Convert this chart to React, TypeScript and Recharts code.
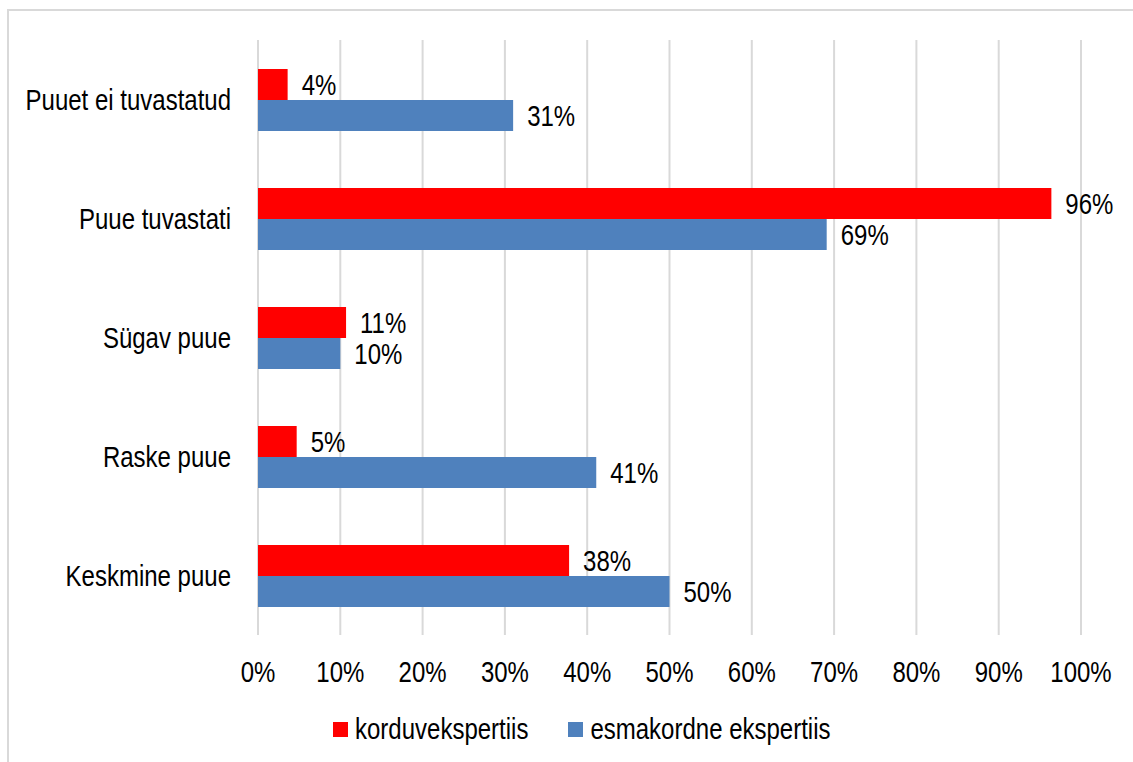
import { BarChart, Bar, XAxis, YAxis, CartesianGrid, LabelList } from "recharts";

const categories = [
  "Puuet ei tuvastatud",
  "Puue tuvastati",
  "Sügav puue",
  "Raske puue",
  "Keskmine puue",
];
const korduvekspertiis = [3.6, 96.4, 10.7, 4.7, 37.8];
const esmakordne = [31.0, 69.1, 10.0, 41.1, 50.0];
const xTicks = [0, 10, 20, 30, 40, 50, 60, 70, 80, 90, 100];

const series = [
  { key: "korduv", name: "korduvekspertiis", color: "#FF0000" },
  { key: "esmakordne", name: "esmakordne ekspertiis", color: "#4F81BD" },
];

const data = categories.map((category, i) => ({
  category,
  korduv: korduvekspertiis[i],
  esmakordne: esmakordne[i],
}));

const FONT = '"Liberation Sans", Arial, sans-serif';
const FS = 24;
// the original text is a narrow face, taller than Arial at the same width
const STRETCH = 1.2;

function TallText({ x, y, anchor, children }: any) {
  return (
    <text
      x={0}
      y={0}
      transform={`translate(${x},${y}) scale(1,${STRETCH})`}
      textAnchor={anchor}
      fill="#000"
      fontSize={FS}
      fontFamily={FONT}
    >
      {children}
    </text>
  );
}

function YTick({ x, y, payload }: any) {
  return <TallText x={x} y={y + 10} anchor="end">{payload.value}</TallText>;
}

function XTick({ x, y, payload }: any) {
  return <TallText x={x} y={y + 20} anchor="middle">{`${payload.value}%`}</TallText>;
}

function BarValue({ x, y, width, height, value }: any) {
  return (
    <TallText x={Number(x) + Number(width) + 14} y={Number(y) + Number(height) / 2 + 10} anchor="start">
      {`${Math.round(Number(value))}%`}
    </TallText>
  );
}

export default function App() {
  return (
    <div style={{ position: "absolute", left: 0, top: 0, width: 1133, height: 762, background: "#fff", fontFamily: FONT }}>
      {/* frame: only left and top edges show in the crop */}
      <div
        style={{
          position: "absolute",
          left: 7,
          top: 9,
          width: 1124,
          height: 751,
          borderLeft: "2px solid #d9d9d9",
          borderTop: "2px solid #d9d9d9",
        }}
      />
      <div style={{ position: "absolute", left: 0, top: 0 }}>
        <BarChart
          width={1133}
          height={762}
          data={data}
          layout="vertical"
          barGap={0}
          margin={{ top: 40, right: 52, left: 0, bottom: 0 }}
        >
          <CartesianGrid horizontal={false} stroke="#d9d9d9" strokeWidth={2} />
          <XAxis
            type="number"
            domain={[0, 100]}
            ticks={xTicks}
            interval={0}
            axisLine={false}
            tickLine={false}
            tickSize={0}
            tickMargin={27}
            height={127}
            tick={<XTick />}
          />
          <YAxis
            type="category"
            dataKey="category"
            width={258}
            interval={0}
            axisLine={false}
            tickLine={false}
            tickSize={0}
            tickMargin={27}
            tick={<YTick />}
          />
          {series.map((s) => (
            <Bar key={s.key} dataKey={s.key} name={s.name} fill={s.color} barSize={31} isAnimationActive={false}>
              <LabelList dataKey={s.key} content={<BarValue />} />
            </Bar>
          ))}
        </BarChart>
      </div>
      <div
        style={{
          position: "absolute",
          left: 333,
          top: 709,
          height: 40,
          display: "flex",
          alignItems: "center",
          fontSize: FS,
          color: "#000",
        }}
      >
        {series.map((s, i) => (
          <div key={s.key} style={{ display: "flex", alignItems: "center", marginLeft: i === 0 ? 0 : 40 }}>
            <span style={{ width: 15, height: 15, background: s.color, marginRight: 7, display: "inline-block" }} />
            <span style={{ display: "inline-block", transform: `scaleY(${STRETCH})` }}>{s.name}</span>
          </div>
        ))}
      </div>
    </div>
  );
}
